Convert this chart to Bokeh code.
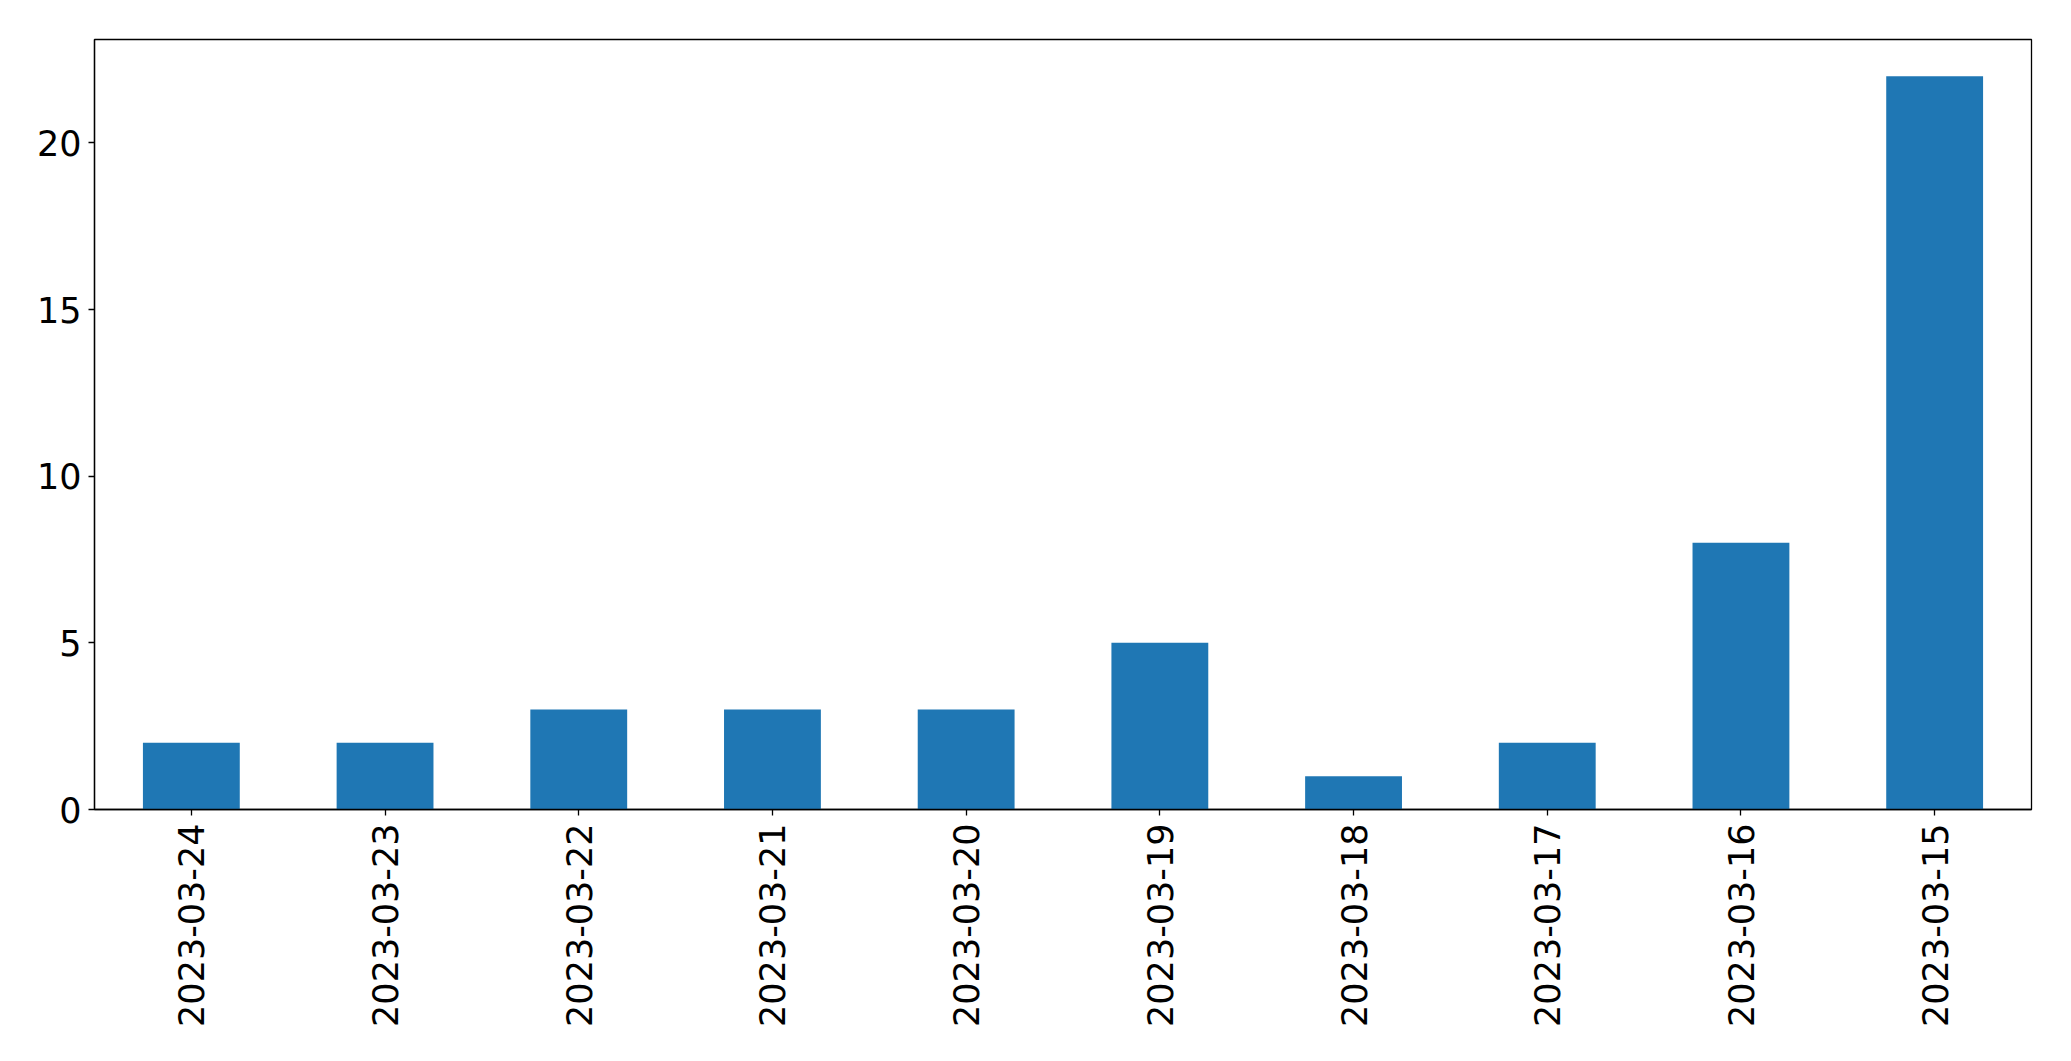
import math
from bokeh.plotting import figure
from bokeh.models import FactorRange, Range1d, FixedTicker, ColumnDataSource
from bokeh.embed import file_html
from bokeh.resources import INLINE

dates = ["2023-03-24", "2023-03-23", "2023-03-22", "2023-03-21", "2023-03-20",
         "2023-03-19", "2023-03-18", "2023-03-17", "2023-03-16", "2023-03-15"]
counts = [2, 2, 3, 3, 3, 5, 1, 2, 8, 22]
y_ticks = [0, 5, 10, 15, 20]

src = ColumnDataSource(data=dict(dates=dates, counts=counts))

p = figure(x_range=FactorRange(*dates), y_range=Range1d(0, 23.1),
           frame_width=1937, frame_height=770,
           output_backend="svg", toolbar_location=None,
           min_border_left=94, min_border_top=39, min_border_right=20,
           min_border_bottom=200)

p.vbar(x="dates", top="counts", width=0.5, source=src,
       fill_color="#1f77b4", line_color=None)

p.xgrid.visible = False
p.ygrid.visible = False
p.outline_line_color = "black"
p.outline_line_alpha = 1
p.outline_line_width = 1.3
p.x_range.range_padding = 0

p.yaxis.ticker = FixedTicker(ticks=y_ticks)
for ax in (p.xaxis[0], p.yaxis[0]):
    ax.axis_line_color = "black"
    ax.axis_line_width = 1.3
    ax.major_tick_line_color = "black"
    ax.major_tick_line_width = 1.3
    ax.major_tick_out = 6
    ax.major_tick_in = 0
    ax.minor_tick_out = 0
    ax.minor_tick_in = 0
    ax.major_label_text_font = "DejaVu Sans"
    ax.major_label_text_font_size = "35px"
    ax.major_label_text_color = "black"
p.xaxis.major_label_orientation = math.pi / 2
p.xaxis.major_label_standoff = 8
p.yaxis.major_label_standoff = 7

open("out.html", "w").write(file_html(p, INLINE))
